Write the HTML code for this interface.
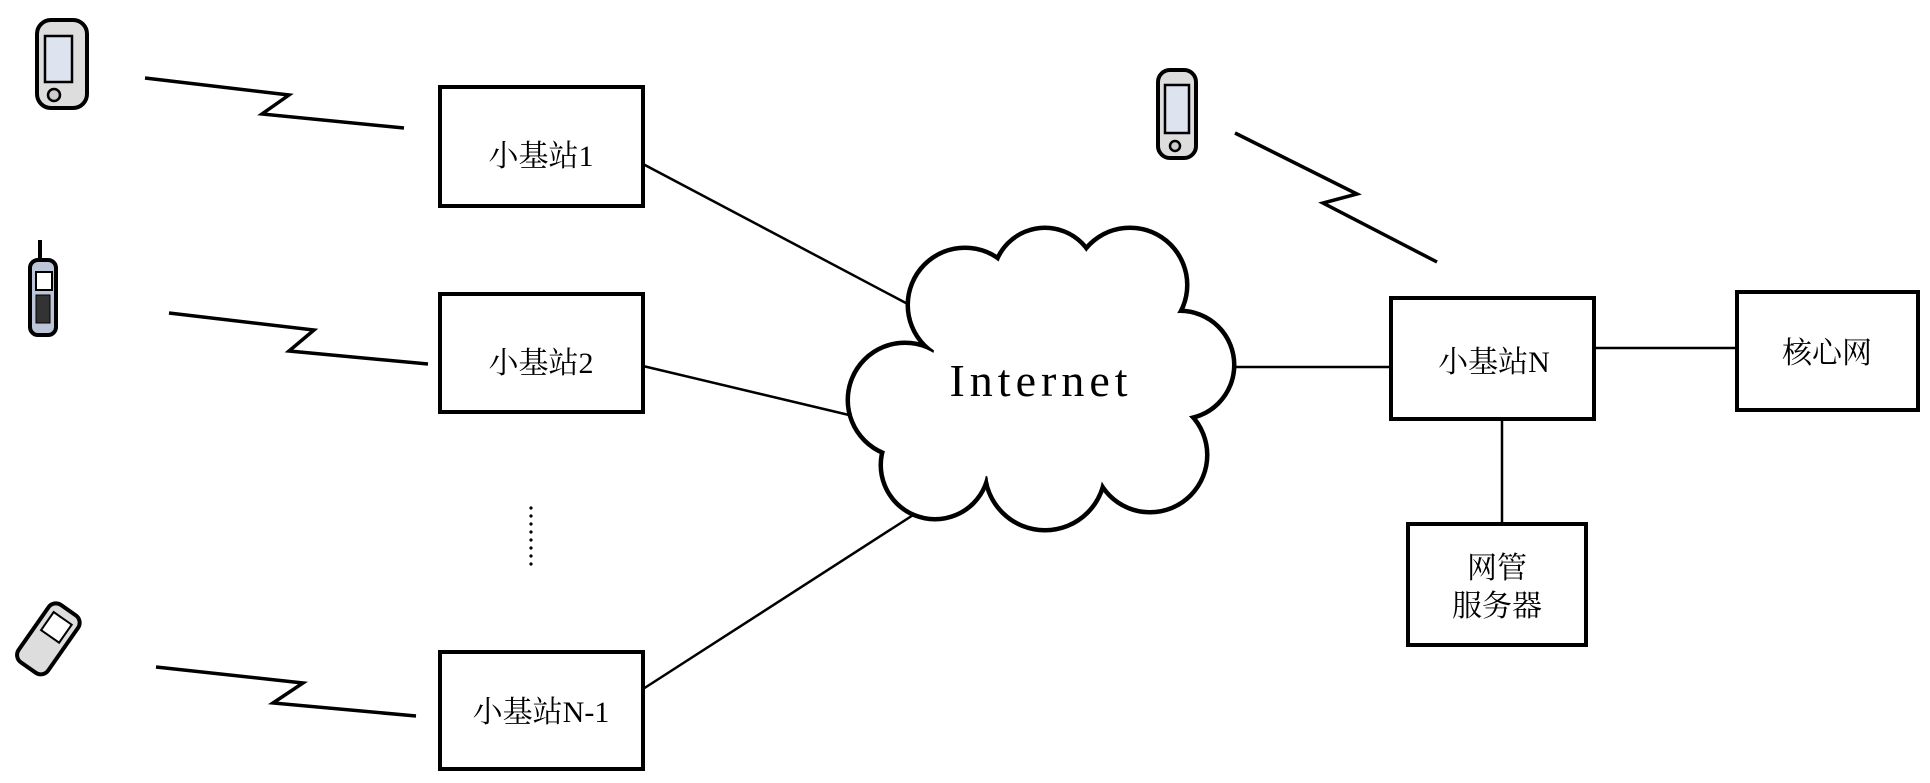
<!DOCTYPE html>
<html><head><meta charset="utf-8"><style>
html,body{margin:0;padding:0;background:#fff;}
svg{display:block;}
text{font-family:"Liberation Serif","Noto Serif CJK SC",serif;fill:#000;}
</style></head><body>
<svg width="1930" height="783" viewBox="0 0 1930 783" xmlns="http://www.w3.org/2000/svg">
<g fill="none" stroke="#000" stroke-width="2.5">
<line x1="643" y1="164" x2="921" y2="311"/>
<line x1="643" y1="366" x2="849" y2="415"/>
<line x1="643" y1="689" x2="938" y2="499"/>
<line x1="1235" y1="367" x2="1391" y2="367"/>
<line x1="1594" y1="348" x2="1737" y2="348"/>
<line x1="1502" y1="421" x2="1502" y2="524"/>
</g>
<!-- cloud -->
<g stroke="#000" stroke-width="9" fill="#000">
<circle cx="905" cy="400" r="55"/><circle cx="965" cy="305" r="55"/><circle cx="1045" cy="280" r="50"/>
<circle cx="1130" cy="285" r="55"/><circle cx="1180" cy="365" r="52"/><circle cx="1150" cy="455" r="55"/>
<circle cx="1045" cy="470" r="58"/><circle cx="935" cy="465" r="52"/><circle cx="1040" cy="380" r="110"/>
</g>
<g fill="#fff">
<circle cx="905" cy="400" r="55"/><circle cx="965" cy="305" r="55"/><circle cx="1045" cy="280" r="50"/>
<circle cx="1130" cy="285" r="55"/><circle cx="1180" cy="365" r="52"/><circle cx="1150" cy="455" r="55"/>
<circle cx="1045" cy="470" r="58"/><circle cx="935" cy="465" r="52"/><circle cx="1040" cy="380" r="110"/>
</g>
<text x="1041" y="396" font-size="46" text-anchor="middle" letter-spacing="5">Internet</text>
<!-- boxes -->
<g fill="#fff" stroke="#000" stroke-width="4">
<rect x="440" y="87" width="203" height="119"/>
<rect x="440" y="294" width="203" height="118"/>
<rect x="440" y="652" width="203" height="117"/>
<rect x="1391" y="298" width="203" height="121"/>
<rect x="1737" y="292" width="181" height="118"/>
<rect x="1408" y="524" width="178" height="121"/>
</g>
<g font-size="30" text-anchor="middle">
<text x="541" y="166">小基站1</text>
<text x="541" y="373">小基站2</text>
<text x="541" y="722">小基站N-1</text>
<text x="1494" y="372">小基站N</text>
<text x="1827" y="363">核心网</text>
<text x="1497" y="578">网管</text>
<text x="1497" y="616">服务器</text>
</g>
<!-- dots -->
<g fill="#000">
<circle cx="531" cy="508" r="1.6"/><circle cx="531" cy="516" r="1.6"/><circle cx="531" cy="524" r="1.6"/>
<circle cx="531" cy="532" r="1.6"/><circle cx="531" cy="540" r="1.6"/><circle cx="531" cy="548" r="1.6"/>
<circle cx="531" cy="556" r="1.6"/><circle cx="531" cy="564" r="1.6"/>
</g>
<!-- zigzags -->
<g fill="none" stroke="#000" stroke-width="3.5" stroke-linejoin="miter">
<polyline points="145,78 289,95 262,114 404,128"/>
<polyline points="169,313 314,330 289,351 428,364"/>
<polyline points="156,667 303,683 273,703 416,716"/>
<polyline points="1235,133 1357,194 1323,203 1437,262"/>
</g>
<!-- phones -->
<g stroke="#000" stroke-width="4">
<rect x="37" y="20" width="50" height="88" rx="14" fill="#ddd"/>
<rect x="45" y="36" width="27" height="46" fill="#dde4f0" stroke-width="2.5"/>
<circle cx="54" cy="95" r="6" fill="#ccc" stroke-width="2.5"/>
<rect x="30" y="260" width="26" height="75" rx="8" fill="#bcc6d8"/>
<line x1="40" y1="240" x2="40" y2="262"/>
<rect x="36" y="272" width="16" height="18" fill="#fff" stroke-width="2"/>
<rect x="36" y="295" width="14" height="28" fill="#333" stroke-width="1"/>
<g transform="rotate(35 50 640)"><rect x="30" y="605" width="36" height="70" rx="9" fill="#ddd"/>
<rect x="37" y="615" width="22" height="22" fill="#fff" stroke-width="2"/></g>
<rect x="1158" y="70" width="38" height="88" rx="12" fill="#ddd"/>
<rect x="1165" y="85" width="24" height="48" fill="#dde4f0" stroke-width="2.5"/>
<circle cx="1175" cy="146" r="5" fill="#ccc" stroke-width="2.5"/>
</g>
</svg>
</body></html>
